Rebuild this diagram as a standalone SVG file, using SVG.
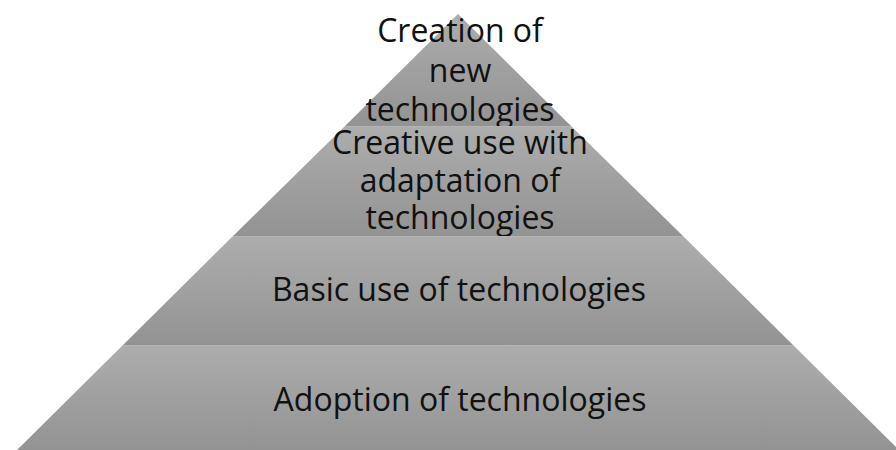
<svg xmlns="http://www.w3.org/2000/svg" width="896" height="450" viewBox="0 0 896 450">
  <style>
    .band { stroke: none; }
    .edge { stroke: #b4b4b4; stroke-width: 1; }
    .label { font-family: "Open Sans", "Liberation Sans", sans-serif; font-size: 32px; fill: #111111; text-anchor: middle; }
  </style>
  <defs>
    <linearGradient id="bandFill" x1="0" y1="0" x2="0" y2="1">
      <stop offset="0" stop-color="#adadad"/>
      <stop offset="1" stop-color="#939393"/>
    </linearGradient>
  </defs>
  <rect width="896" height="450" fill="#ffffff"/>

  <!-- Top level: apex triangle -->
  <g id="level-creation">
    <polygon class="band" fill="url(#bandFill)" points="458,14 571,126 345,126"/>
    <text class="label" x="460" y="42">Creation of</text>
    <text class="label" x="460" y="82">new</text>
    <text class="label" x="460" y="121">technologies</text>
  </g>

  <!-- Second level -->
  <g id="level-creative-use">
    <polygon class="band" fill="url(#bandFill)" points="345,126 571,126 683,236 233,236"/>
    <line class="edge" x1="345" y1="126.5" x2="571" y2="126.5"/>
    <text class="label" x="460" y="154">Creative use with</text>
    <text class="label" x="460" y="192">adaptation of</text>
    <text class="label" x="460" y="229">technologies</text>
  </g>

  <!-- Third level -->
  <g id="level-basic-use">
    <polygon class="band" fill="url(#bandFill)" points="233,236 683,236 793,345 123,345"/>
    <line class="edge" x1="233" y1="236.5" x2="683" y2="236.5"/>
    <text class="label" x="459" y="301">Basic use of technologies</text>
  </g>

  <!-- Base level -->
  <g id="level-adoption">
    <polygon class="band" fill="url(#bandFill)" points="123,345 793,345 899,450 17,450"/>
    <line class="edge" x1="123" y1="345.5" x2="793" y2="345.5"/>
    <text class="label" x="460" y="411">Adoption of technologies</text>
  </g>
</svg>
